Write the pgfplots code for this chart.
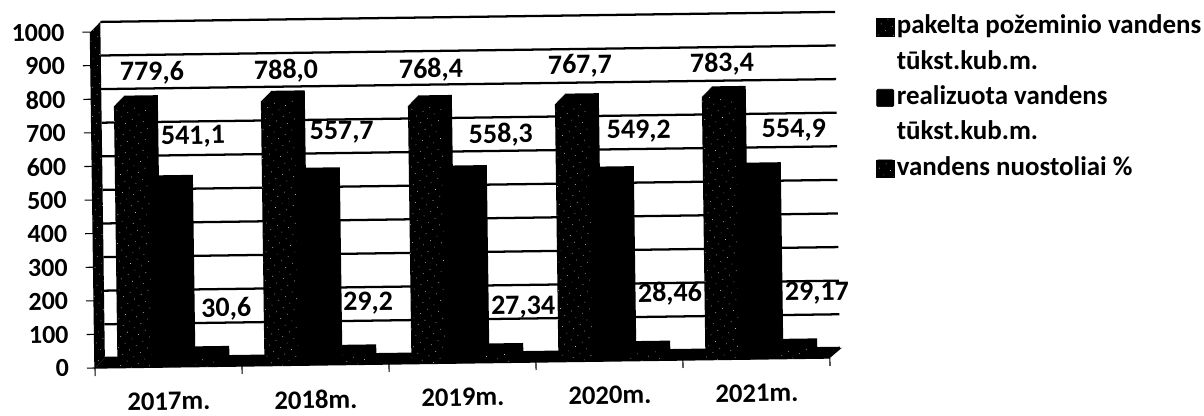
\documentclass[border=0pt]{standalone}
\usepackage{fontspec}
\setmainfont{Carlito}
\usepackage{pgfplots}
\usepackage{pgfplotstable}
\pgfplotsset{compat=1.18}
\usetikzlibrary{patterns.meta}

% one reference pixel = 0.75pt
\pgfplotstableread{
pos  pakelta realizuota nuostoliai
0.5  779.6   541.1      30.6
1.5  788.0   557.7      29.2
2.5  768.4   558.3      27.34
3.5  767.7   549.2      28.46
4.5  783.4   554.9      29.17
}\bars

\pgfplotstableread{
x     y    label
0.415 876  779,6
0.688 684  541,1
0.898 170  30,6
1.327 876  788,0
1.700 692  557,7
1.864 182  29,2
2.313 873  768,4
2.782 677  558,3
2.918 164  27,34
3.327 879  767,7
3.721 683  549,2
3.918 197  28,46
4.293 879  783,4
4.776 680  554,9
4.918 194  29,17
}\labels

\tikzset{stipple/.style={pattern={Dots[distance=6pt,radius=0.3pt,angle=33]},pattern color=white}}

% solid bar pushed back step by step, so it looks like a block with depth
\newcommand\blockbar[3]{%
  \pgfplotsinvokeforeach{7.5,6.75,...,0}{%
    \addplot[ybar,bar width=25.5pt,bar shift=#2,draw=none,fill=black,xshift=##1pt,yshift=##1pt]
      table[x=pos,y=#1]{\bars};
  }
  #3
}

\begin{document}
\begin{tikzpicture}
\useasboundingbox (0,0) rectangle (903pt,311.25pt);
\begin{scope}[transform canvas={rotate around={0.78:(71.25pt,35.25pt)}}]
\begin{axis}[
  at={(71.25pt,35.25pt)}, anchor=south west,
  scale only axis, width=551.25pt, height=252pt,
  xmin=0, xmax=5, ymin=0, ymax=1000,
  clip=false,
  axis x line=bottom, axis y line=left,
  axis line style={-,line width=1pt},
  xtick={0,1,2,3,4,5},
  x tick label as interval,
  xticklabels={2017m.,2018m.,2019m.,2020m.,2021m.},
  ytick={0,100,...,1000},
  tick align=outside,
  major tick length=6pt,
  tick style={black,line width=0.8pt},
  /pgf/number format/assume math mode=true,
  /pgf/number format/1000 sep={},
  yticklabel style={font=\fontsize{19.5}{21}\selectfont\bfseries,xshift=-10pt},
  xticklabel style={font=\fontsize{20}{22}\selectfont\bfseries,yshift=-9.5pt},
  ymajorgrids,
  grid style={black,line width=1.7pt,xshift=7.5pt,yshift=7.5pt},
]
  % labels first, the bars cover them where they run into each other
  \addplot[only marks,mark=none,
    nodes near coords,point meta=explicit symbolic,
    nodes near coords style={anchor=center,inner sep=0pt,font=\fontsize{21}{23}\selectfont\bfseries}]
    table[x=x,y=y,meta=label]{\labels};

  % left wall and floor
  \fill[black] (rel axis cs:0,0) -- (rel axis cs:0,1) -- ++(7.5pt,7.5pt) -- ([shift={(7.5pt,7.5pt)}]rel axis cs:0,0) -- cycle;
  \fill[stipple] (rel axis cs:0,0) -- (rel axis cs:0,1) -- ++(7.5pt,7.5pt) -- ([shift={(7.5pt,7.5pt)}]rel axis cs:0,0) -- cycle;
  \fill[black] (rel axis cs:0,0) -- (rel axis cs:1,0) -- ++(9pt,7.5pt) -- ([shift={(7.5pt,7.5pt)}]rel axis cs:0,0) -- cycle;

  \blockbar{nuostoliai}{25.5pt}{\addplot[ybar,bar width=25.5pt,bar shift=25.5pt,draw=none,stipple] table[x=pos,y=nuostoliai]{\bars};}
  \blockbar{realizuota}{0pt}{}
  \blockbar{pakelta}{-25.5pt}{\addplot[ybar,bar width=25.5pt,bar shift=-25.5pt,draw=none,stipple] table[x=pos,y=pakelta]{\bars};}
\end{axis}
\end{scope}

% legend: one row per text line, so the spacing stays even
\begin{axis}[
  at={(0,0)}, anchor=south west,
  scale only axis, width=903pt, height=311.25pt,
  xmin=0, xmax=1204, ymin=0, ymax=415,
  hide axis,
  legend style={at={(654pt,302pt)},anchor=north west,draw=none,fill=none,
    font=\fontsize{20.2}{22}\selectfont\bfseries,
    nodes={inner xsep=2pt,inner ysep=0pt,text height=14pt,text depth=4pt},
    row sep=8.5pt},
  legend cell align=left,
]
  \addlegendimage{legend image code/.code={
    \fill[black,rounded corners=1pt] (0pt,-6.5pt) rectangle (13pt,6.5pt);
    \fill[stipple] (0pt,-6.5pt) rectangle (13pt,6.5pt);}}
  \addlegendentry{pakelta požeminio vandens}
  \addlegendimage{legend image code/.code={\path[draw=none,fill=none] (0pt,0pt) rectangle (13pt,1pt);}}
  \addlegendentry{tūkst.kub.m.}
  \addlegendimage{legend image code/.code={\fill[black,rounded corners=1pt] (0pt,-6.5pt) rectangle (13pt,6.5pt);}}
  \addlegendentry{realizuota vandens}
  \addlegendimage{legend image code/.code={\path[draw=none,fill=none] (0pt,0pt) rectangle (13pt,1pt);}}
  \addlegendentry{tūkst.kub.m.}
  \addlegendimage{legend image code/.code={
    \fill[black,rounded corners=1pt] (0pt,-6.5pt) rectangle (13pt,6.5pt);
    \fill[stipple] (0pt,-6.5pt) rectangle (13pt,6.5pt);}}
  \addlegendentry{vandens nuostoliai \%}
\end{axis}
\end{tikzpicture}
\end{document}
